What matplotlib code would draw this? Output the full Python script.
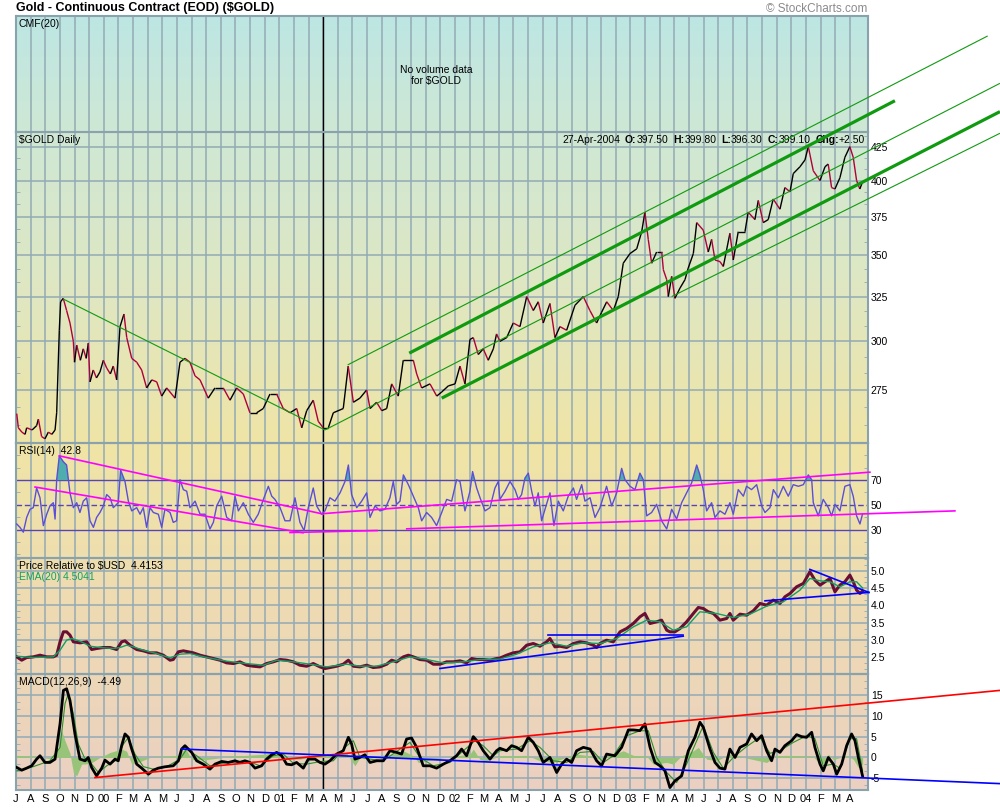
import numpy as np
import matplotlib
matplotlib.use("Agg")
import matplotlib.pyplot as plt
from matplotlib.collections import LineCollection
from matplotlib.colors import LinearSegmentedColormap
from matplotlib.ticker import FixedLocator, NullFormatter

plt.rcParams['font.family'] = ['Liberation Sans', 'DejaVu Sans']

# x unit: months since 1-Jul-1999
month_labels = ['J', 'A', 'S', 'O', 'N', 'D',
                '00', 'F', 'M', 'A', 'M', 'J', 'J', 'A', 'S', 'O', 'N', 'D',
                '01', 'F', 'M', 'A', 'M', 'J', 'J', 'A', 'S', 'O', 'N', 'D',
                '02', 'F', 'M', 'A', 'M', 'J', 'J', 'A', 'S', 'O', 'N', 'D',
                '03', 'F', 'M', 'A', 'M', 'J', 'J', 'A', 'S', 'O', 'N', 'D',
                '04', 'F', 'M', 'A']
XMAX = 58.24
MARK_MONTH = 21  # vertical marker, Apr 2001

# ---- $GOLD daily close ----
price_t = [0.05, 0.16, 0.40, 0.62, 0.73, 1.10, 1.41, 1.53, 1.75, 1.98, 2.21, 2.45, 2.67, 2.78,
           2.96, 3.05, 3.23, 3.46, 3.69, 3.92, 4.00, 4.15, 4.40, 4.60, 4.80, 4.94, 5.06, 5.28,
           5.50, 5.74, 5.97, 6.20, 6.45, 6.65, 6.88, 7.11, 7.38, 7.57, 7.91, 8.25, 8.59, 8.93,
           9.28, 9.62, 9.96, 10.30, 10.87, 11.21, 11.55, 11.89, 12.24, 12.58, 13.14, 13.60,
           14.17, 14.63, 15.08, 15.54, 15.99, 16.45, 16.90, 17.36, 17.82, 18.27, 18.73, 19.19,
           19.53, 19.87, 20.32, 20.66, 21.00, 21.35, 21.69, 22.37, 22.71, 23.06, 23.51, 23.97,
           24.20, 24.65, 25.00, 25.34, 25.68, 26.13, 26.47, 27.16, 27.39, 27.73, 28.30, 28.76,
           29.10, 29.55, 30.01, 30.35, 30.69, 31.03, 31.26, 31.60, 31.94, 32.28, 32.63, 32.85,
           33.08, 33.54, 33.99, 34.45, 34.91, 35.36, 35.70, 36.04, 36.50, 36.84, 37.18, 37.64,
           38.21, 38.78, 39.23, 39.69, 40.03, 40.38, 40.83, 41.17, 41.51, 41.97, 42.43, 42.77,
           42.99, 43.22, 43.45, 43.79, 44.14, 44.25, 44.48, 44.59, 44.82, 45.04, 45.39, 45.73,
           45.95, 46.30, 46.53, 46.98, 47.32, 47.55, 47.78, 48.12, 48.35, 48.80, 49.03, 49.37,
           49.83, 50.05, 50.51, 50.74, 51.08, 51.42, 51.76, 52.22, 52.56, 52.91, 53.13, 53.59,
           53.93, 54.16, 54.50, 54.96, 55.30, 55.52, 55.75, 55.98, 56.32, 56.66, 57.00, 57.23,
           57.46, 57.68, 57.87]
price_v = [263.6, 257, 255, 254, 257, 256, 258, 261, 253, 252, 255, 254, 256, 264,
           306, 322, 324, 317, 310, 300, 289, 298, 290, 296, 291, 299, 279, 285,
           281, 284, 290, 286, 283, 287, 280, 308, 315, 302, 291, 289, 285, 276,
           280, 279, 272, 276, 271, 289, 291, 289, 282, 280, 271, 276,
           276, 270, 276, 273, 264, 264, 266, 273, 273, 266, 264, 266,
           257, 265, 270, 260, 257, 257, 264, 266, 287, 269, 271, 275,
           266, 269, 265, 266, 278, 272, 290, 290, 283, 276, 278, 272,
           274, 277, 278, 287, 278, 301, 302, 293, 296, 290, 296, 304,
           300, 302, 310, 308, 325, 317, 322, 310, 321, 302, 308, 306,
           320, 325, 317, 310, 316, 322, 317, 325, 345, 351, 354, 365,
           378, 360, 345, 352, 352, 341, 335, 325, 337, 324, 330, 335,
           342, 351, 371, 366, 352, 360, 347, 346, 343, 364, 347, 365,
           365, 378, 373, 386, 371, 373, 387, 380, 395, 392, 405, 410,
           415, 425, 407, 400, 410, 412, 395, 394, 402, 417, 425, 417,
           400, 394, 399.1]

# price channel trendlines (month, price)
down_t, down_v = [3.23, 21.12], [323.6, 256.0]
chan_top_t, chan_top_v = [22.67, 66.42], [287.6, 518.1]
chan_hi_t, chan_hi_v = [26.88, 60.08], [293.7, 461.4]
chan_mid_t, chan_mid_v = [21.12, 67.26], [256.0, 476.0]
chan_lo_t, chan_lo_v = [29.10, 67.26], [271.0, 452.5]
chan_bot_t, chan_bot_v = [44.82, 67.26], [325.0, 435.3]

# ---- RSI(14) ----
rsi_t = [0.05, 0.27, 0.50, 0.73, 0.96, 1.18, 1.41, 1.64, 1.87, 2.10, 2.32, 2.55, 2.67, 2.78,
         2.96, 3.24, 3.46, 3.69, 3.92, 4.15, 4.37, 4.60, 4.83, 5.06, 5.29, 5.51, 5.74, 5.97,
         6.20, 6.43, 6.65, 6.99, 7.15, 7.45, 7.68, 7.91, 8.25, 8.48, 8.70, 8.93, 9.16, 9.39,
         9.73, 9.96, 10.18, 10.53, 10.75, 10.98, 11.21, 11.44, 11.67, 11.89, 12.24, 12.58,
         12.92, 13.26, 13.49, 13.72, 14.06, 14.40, 14.74, 14.97, 15.20, 15.54, 15.88, 16.22,
         16.56, 16.91, 17.25, 17.48, 17.70, 18.05, 18.39, 18.73, 19.07, 19.41, 19.69, 19.98,
         20.32, 20.55, 20.89, 21.12, 21.46, 21.80, 22.15, 22.49, 22.72, 22.94, 23.29, 23.63,
         23.97, 24.20, 24.54, 24.88, 25.22, 25.56, 25.79, 26.02, 26.25, 26.48, 26.82, 27.16,
         27.50, 27.73, 28.07, 28.41, 28.75, 29.10, 29.44, 29.78, 30.12, 30.35, 30.69, 31.03,
         31.21, 31.49, 31.72, 32.06, 32.40, 32.74, 32.97,
         33.08, 33.43, 33.77, 34.11, 34.34, 34.56, 34.79, 35.02, 35.25, 35.48, 35.70, 35.93,
         36.16, 36.50, 36.77, 37.07, 37.41, 37.75, 38.10, 38.32, 38.67, 38.89, 39.24, 39.58,
         39.92, 40.37, 40.72, 41.06, 41.40, 41.63, 41.97, 42.31, 42.65, 42.88, 43.11, 43.45,
         43.79, 44.13, 44.48, 44.82, 45.16, 45.50, 45.84, 46.18, 46.53, 46.75, 46.98, 47.21,
         47.55, 47.78, 48.12, 48.46, 48.80, 49.03, 49.37, 49.72, 49.94, 50.28, 50.63, 50.97,
         51.20, 51.54, 51.77, 52.11, 52.45, 52.79, 53.13, 53.48, 53.82, 54.16, 54.39, 54.50,
         54.84, 55.18, 55.53, 55.75, 55.98, 56.32, 56.66, 57.00, 57.23, 57.46, 57.69, 57.87]
rsi_v = [34.5, 31.8, 27.9, 39.8, 46.4, 47.7, 63.6, 55.7, 33.2, 42.4, 49.1, 51.7, 38.5, 70.3,
         89.6, 84.8, 82.2, 59.7, 47.7, 51.7, 43.8, 53.0, 55.7, 37.1, 31.8, 39.8, 43.8, 49.1,
         58.3, 55.7, 47.7, 51.7, 78.2, 68.9, 53.0, 45.1, 47.7, 42.4, 47.7, 31.8, 47.7, 43.8,
         42.4, 31.8, 46.4, 43.8, 35.8, 37.1, 70.3, 62.3, 61.0, 47.7, 53.0, 42.4,
         42.4, 30.5, 35.8, 49.1, 57.0, 39.8, 37.1, 57.0, 45.1, 51.7, 42.4, 35.8,
         42.4, 54.4, 65.0, 57.0, 54.4, 47.7, 37.1, 37.1, 55.7, 35.8, 29.2, 47.7,
         63.6, 49.1, 42.4, 45.1, 55.7, 53.0, 59.7, 68.9, 82.2, 58.3, 47.7, 53.0,
         59.7, 39.8, 49.1, 45.1, 46.4, 55.7, 68.9, 50.4, 53.0, 74.2, 66.3, 57.0,
         47.7, 37.1, 43.8, 39.8, 33.2, 43.8, 54.4, 53.0, 70.3, 68.9, 45.1, 61.0,
         76.9, 63.6, 55.7, 45.1, 47.7, 63.6, 68.9,
         54.4, 61.0, 68.9, 62.3, 54.4, 58.3, 71.6, 75.6, 61.0, 49.1, 59.7, 37.1,
         46.4, 59.7, 33.2, 53.0, 45.1, 57.0, 63.6, 54.4, 66.3, 53.0, 55.7, 39.8,
         47.7, 65.0, 49.1, 59.7, 79.5, 70.3, 65.0, 62.3, 75.6, 70.3, 41.1, 43.8,
         50.4, 37.1, 30.5, 46.4, 38.5, 51.7, 59.7, 67.6, 82.2, 74.2, 62.3, 45.1,
         51.7, 39.8, 45.1, 42.4, 51.7, 42.4, 62.3, 57.0, 65.0, 62.3, 66.3, 49.1,
         43.8, 47.7, 62.3, 55.7, 65.0, 57.0, 66.3, 65.0, 66.3, 74.2, 70.3, 51.7,
         41.1, 54.4, 47.7, 41.1, 50.4, 45.1, 65.0, 66.3, 57.0, 41.1, 34.5, 42.8]

rsi_line1 = ([2.96, 21.00], [89.6, 42.5])
rsi_line2 = ([1.30, 19.62], [64.4, 27.4])
rsi_line3 = ([18.73, 24.68], [27.6, 29.2])
rsi_line4 = ([26.71, 64.18], [30.6, 45.1])
rsi_line5 = ([21.12, 58.37], [43.0, 76.4])

# ---- Price relative to $USD and its EMA(20) ----
pr_t = [0.05, 0.39, 0.73, 1.18, 1.64, 2.10, 2.55, 2.78, 3.01, 3.24, 3.46, 3.69, 3.92, 4.37,
        4.83, 5.17, 5.51, 5.97, 6.43, 6.88, 7.22, 7.45, 7.79, 8.25, 8.70, 9.16, 9.61, 10.07,
        10.53, 10.75, 11.10, 11.44, 11.78, 12.12, 12.58, 13.03, 13.49, 13.94, 14.40, 14.86,
        15.31, 15.77, 16.22, 16.68, 17.13, 17.59, 18.05, 18.50, 18.96, 19.41, 19.87, 20.32,
        20.78, 21.12, 21.46, 21.92, 22.37, 22.72, 23.06, 23.51, 23.97, 24.42, 24.88, 25.34,
        25.68, 26.02, 26.48, 26.82, 27.16, 27.61, 28.07, 28.53, 28.98, 29.44, 29.89, 30.35,
        30.80, 31.15, 31.49, 31.94, 32.40, 32.85, 33.08,
        33.54, 33.99, 34.45, 34.91, 35.36, 35.82, 36.27, 36.50, 36.84, 37.18, 37.64, 38.10,
        38.55, 39.01, 39.46, 39.69, 39.92, 40.37, 40.83, 41.29, 41.74, 42.20, 42.65, 42.99,
        43.34, 43.79, 44.13, 44.48, 44.70, 45.04, 45.39, 45.84, 46.30, 46.64, 46.98, 47.32,
        47.67, 48.12, 48.58, 48.80, 49.03, 49.49, 49.94, 50.40, 50.85, 51.31, 51.77, 52.22,
        52.56, 52.91, 53.36, 53.82, 54.27, 54.61, 54.96, 55.30, 55.64, 55.98, 56.32, 56.66,
        57.00, 57.23, 57.46, 57.69, 57.87]
pr_v = [2.515, 2.419, 2.496, 2.515, 2.563, 2.515, 2.515, 2.563, 2.949, 3.238, 3.238, 3.141, 2.949, 2.92,
        2.949, 2.727, 2.756, 2.785, 2.785, 2.727, 2.949, 2.978, 2.852, 2.727, 2.689, 2.631, 2.631, 2.563,
        2.419, 2.438, 2.66, 2.689, 2.66, 2.631, 2.563, 2.515, 2.467, 2.419, 2.342, 2.322,
        2.371, 2.274, 2.245, 2.226, 2.322, 2.371, 2.438, 2.419, 2.371, 2.274, 2.245, 2.322,
        2.226, 2.178, 2.207, 2.245, 2.303, 2.419, 2.245, 2.226, 2.274, 2.207, 2.226, 2.303,
        2.419, 2.371, 2.515, 2.563, 2.515, 2.438, 2.419, 2.303, 2.303, 2.371, 2.371, 2.40,
        2.342, 2.467, 2.438, 2.438, 2.419, 2.467, 2.48,
        2.563, 2.631, 2.66, 2.852, 2.90, 2.823, 2.949, 3.045, 2.804, 2.823, 2.785, 2.90,
        2.949, 2.92, 2.852, 2.785, 2.90, 2.997, 2.949, 3.238, 3.334, 3.479, 3.671, 3.768,
        3.479, 3.527, 3.575, 3.286, 3.238, 3.238, 3.334, 3.527, 3.768, 3.941, 3.912, 3.816,
        3.768, 3.575, 3.623, 3.768, 3.575, 3.748, 3.719, 3.845, 4.057, 4.008, 4.153, 4.057,
        4.249, 4.346, 4.538, 4.635, 4.972, 4.731, 4.587, 4.683, 4.779, 4.394, 4.587, 4.683,
        4.876, 4.683, 4.442, 4.346, 4.415]
ema_t = [0.05, 1.18, 2.55, 3.01, 3.46, 3.81, 4.37, 5.06, 5.74, 6.65, 7.11, 7.56, 8.02, 8.70,
         9.61, 10.53, 11.21, 11.89, 13.03, 14.40, 15.77, 16.91, 17.82, 18.96, 20.10, 21.23,
         22.60, 23.51, 24.65, 25.79, 26.93, 28.07, 29.21, 30.58, 31.72, 33.08, 34.22, 35.36,
         36.50, 37.64, 38.78, 39.92, 41.06, 42.20, 43.11, 44.02, 44.93, 45.84, 46.75, 47.89,
         49.03, 50.17, 51.31, 52.45, 53.59, 54.27, 54.96, 55.64, 56.32, 57.00, 57.46, 57.87]
ema_v = [2.534, 2.496, 2.515, 2.708, 2.997, 3.045, 2.968, 2.823, 2.785, 2.756, 2.785, 2.852, 2.804, 2.708,
         2.611, 2.486, 2.592, 2.611, 2.496, 2.39, 2.322, 2.274, 2.419, 2.371, 2.303, 2.226,
         2.303, 2.245, 2.245, 2.371, 2.515, 2.438, 2.342, 2.371, 2.438, 2.45, 2.592, 2.804,
         2.92, 2.823, 2.92, 2.9, 3.045, 3.382, 3.575, 3.527, 3.286, 3.382, 3.816, 3.768,
         3.652, 3.748, 3.98, 4.105, 4.442, 4.779, 4.712, 4.683, 4.538, 4.683, 4.683, 4.504]

pr_line1 = ([28.98, 45.61], [2.179, 3.113])
pr_line2 = ([36.38, 45.61], [3.142, 3.142])
pr_line3 = ([51.20, 58.30], [4.133, 4.376])
pr_line4 = ([54.27, 58.30], [5.04, 4.376])

# ---- MACD(12,26,9) ----
macd_t = [0.05, 0.39, 0.73, 1.07, 1.41, 1.64, 1.98, 2.32, 2.67, 3.01, 3.24, 3.46, 3.69, 4.03,
          4.37, 4.72, 4.94, 5.17, 5.51, 5.86, 6.08, 6.43, 6.77, 6.99, 7.22, 7.45, 7.68, 7.91,
          8.25, 8.59, 9.05, 9.39, 9.73, 10.18, 10.75, 11.10, 11.32, 11.55, 12.01, 12.35,
          12.80, 13.26, 13.60, 14.06, 14.51, 14.97, 15.31, 15.65, 15.99, 16.34, 16.79, 17.13,
          17.48, 17.82, 18.16, 18.50, 18.84, 19.18, 19.64, 19.98, 20.44, 20.78, 21.12, 21.46,
          21.92, 22.37, 22.72, 22.94, 23.17, 23.51, 23.85, 24.20, 24.65, 25.11, 25.56, 26.02,
          26.36, 26.70, 27.04, 27.39, 27.84, 28.30, 28.75, 29.21, 29.66, 30.12, 30.46, 30.80,
          31.26, 31.60, 31.94, 32.40, 32.85, 33.08,
          33.54, 33.88, 34.22, 34.56, 35.02, 35.36, 35.70, 36.04, 36.50, 36.96, 37.30, 37.64,
          37.98, 38.32, 38.78, 39.24, 39.69, 40.03, 40.37, 40.94, 41.40, 41.86, 42.20, 42.65,
          42.99, 43.34, 43.68, 44.02, 44.36, 44.70, 45.04, 45.50, 45.96, 46.41, 46.75, 46.98,
          47.44, 47.78, 48.12, 48.46, 48.80, 49.15, 49.49, 49.94, 50.28, 50.63, 50.97, 51.31,
          51.65, 51.88, 52.22, 52.56, 53.02, 53.36, 53.70, 54.04, 54.39, 54.61, 54.96, 55.18,
          55.53, 55.87, 56.10, 56.44, 56.78, 57.12, 57.35, 57.58, 57.87]
macd_v = [-2.4, -3.05, -2.56, -2.0, -0.4, 0.41, -1.2, -1.2, -0.4, 8.04, 16.07, 16.47, 13.66, 5.63,
          -0.4, -0.8, 0.0, -2.4, -4.41, -2.56, -0.64, -1.6, -0.4, -0.8, 2.82, 5.63, 4.83, 2.01,
          -1.6, -2.56, -4.01, -3.05, -2.56, -2.24, -2.0, -0.8, 2.01, 2.82, 1.21, -0.8,
          -1.6, -2.8, -1.6, -0.96, -1.2, -0.8, -1.2, -0.8, -1.2, -2.56, -2.0, -0.4,
          0.65, 1.21, 0.41, -1.6, -1.76, -1.2, -2.56, -0.4, -0.4, -1.2, -1.6, -0.8,
          0.81, 1.61, 4.83, 3.22, -0.4, 0.0, 0.65, -1.2, -0.8, -0.8, 1.61, 1.21,
          0.81, 4.42, 4.66, 2.42, -2.0, -2.0, -2.56, -1.6, -0.8, 0.41, 2.01, 0.41,
          4.99, 3.62, 1.61, -0.4, 1.61, 2.2,
          1.61, 2.82, 2.42, 1.61, 4.83, 3.62, 1.61, -1.2, 0.0, -3.61, -1.6, -0.4,
          -1.2, 1.61, 2.42, 2.01, -0.8, -2.0, 0.81, 0.41, 2.42, 6.59, 6.59, 6.43,
          8.04, 2.42, -1.2, -2.0, -3.21, -7.22, -5.62, -4.41, 1.61, 4.83, 8.44, 7.24,
          2.01, -1.2, -2.56, -2.8, 2.01, 0.0, 2.42, 3.22, 5.63, 4.02, 5.23, 1.61,
          -0.8, 2.01, 1.21, 2.82, 4.02, 5.46, 4.99, 4.83, 6.03, 2.42, -1.6, -3.21,
          0.0, -1.6, -4.01, -1.6, 2.82, 5.63, 4.02, 0.0, -4.49]
signal_t = [0.05, 1.18, 2.32, 3.01, 3.35, 3.58, 3.92, 4.26, 4.72, 5.17, 5.63, 6.20, 6.88, 7.34,
            7.68, 8.13, 8.70, 9.39, 10.30, 11.21, 11.67, 12.35, 13.26, 14.40, 15.77, 16.68,
            17.59, 18.27, 18.96, 19.87, 20.78, 21.69, 22.60, 23.06, 23.51, 24.20, 25.11, 26.02,
            26.93, 27.61, 28.53, 29.66, 30.58, 31.37, 31.94, 32.63, 33.08, 34.22, 35.13, 35.82,
            36.73, 37.64, 38.55, 39.46, 40.15, 40.83, 41.74, 42.65, 43.22, 43.79, 44.48, 45.16,
            45.84, 46.53, 46.98, 47.67, 48.35, 49.03, 49.94, 50.85, 51.54, 52.22, 53.13, 54.04,
            54.61, 55.18, 55.87, 56.32, 57.00, 57.46, 57.87]
signal_v = [-3.2, -2.2, -0.8, 2.4, 12.9, 15.3, 10.45, 3.2, -0.4, -1.6, -3.6, -2.0, -0.6, 3.2,
            4.8, 0.8, -2.2, -2.8, -2.2, -0.4, 2.0, 0.4, -2.0, -1.2, -0.8, -2.0,
            0.4, 0.8, -1.4, -1.6, -1.0, -0.8, 2.8, 4.0, 0.0, -0.4, -0.8, 1.45,
            3.6, 0.0, -2.0, -1.2, 1.6, 4.0, 2.8, 0.4, 1.6, 2.0, 4.0, 2.4,
            -0.8, -1.2, 1.2, 1.45, -1.2, 0.4, 5.2, 6.4, 6.4, 0.0, -3.6, -6.0,
            -1.6, 4.0, 7.6, 1.2, -2.6, 0.0, 2.6, 4.8, 1.0, 1.6, 3.6, 5.2,
            4.5, -2.0, -1.6, -2.6, 4.5, 4.5, -3.2]
hist_t = [0.05, 1.18, 2.32, 2.89, 3.12, 3.35, 3.69, 3.92, 4.15, 4.49, 5.06, 5.74, 6.43, 7.22,
          7.56, 7.91, 8.48, 9.16, 11.21, 11.55, 12.01, 13.03, 14.86, 17.13, 17.48, 18.27,
          19.41, 20.55, 22.60, 22.83, 23.17, 23.51, 25.79, 26.47, 27.16, 27.50, 28.53, 30.12,
          31.03, 31.26, 31.72, 32.17, 33.08, 34.91, 35.82, 36.73, 37.18, 38.32, 39.24, 39.92,
          40.60, 41.51, 42.20, 43.11, 43.56, 44.48, 44.93, 45.50, 46.30, 46.64, 47.21, 47.89,
          48.80, 49.49, 51.31, 51.99, 52.68, 54.50, 54.96, 55.30, 55.53, 55.87, 56.78, 57.23,
          57.58, 57.87]
hist_v = [0.5, 0.3, -0.3, 2.0, 6.4, 4.0, 1.0, -3.6, -4.4, -1.6, -1.5, 0.0, 1.2, 2.0,
          1.5, -1.6, -1.0, 0.0, 0.5, 2.4, -0.5, -0.5, 0.3, 0.8, 1.2, -0.4,
          -0.4, 0.4, 1.2, -0.3, -2.0, 0.0, 0.8, 1.6, 0.4, -1.2, -0.4, 0.4,
          0.8, 2.0, -0.5, -0.8, 0.4, 0.5, -0.8, -1.2, -0.5, 0.8, 0.4, -0.5,
          0.4, 1.6, 0.5, 0.3, -1.6, -1.2, -1.6, 0.4, 1.6, 2.4, -0.4, -0.8,
          0.8, 0.2, -1.2, 0.4, 0.5, 0.2, -1.6, -1.2, 0.8, -0.5, 0.4, -0.4,
          -2.4, -1.6]

macd_red = ([5.40, 67.26], [-4.82, 16.07])
macd_blue = ([11.33, 67.26], [2.02, -6.27])

# ---------------------------------------------------------------
W, H = 1000, 810
GRID = '#93aab4'
SPINE = '#8aa2ac'
FS = 7.5

fig = plt.figure(figsize=(W / 100, H / 100), dpi=100)
fig.patch.set_facecolor('white')


def panel_rect(top, bottom):
    return [16 / W, 1 - bottom / H, (868 - 16) / W, (bottom - top) / H]


# gradient background behind all panels
bg = fig.add_axes(panel_rect(16, 790), zorder=0)
stops = [(0.0, '#bde6e3'), (0.15, '#cfe8d4'), (0.35, '#dfe7c2'), (0.55, '#efe4a6'),
         (0.63, '#f0e2aa'), (0.78, '#eedab3'), (0.92, '#ecd4bc'), (1.0, '#ebd0c2')]
bg.imshow(np.linspace(0, 1, 400).reshape(-1, 1), aspect='auto',
          cmap=LinearSegmentedColormap.from_list('bg', stops))
bg.axis('off')

ax_cmf = fig.add_axes(panel_rect(16, 132), zorder=1)
ax_p = fig.add_axes(panel_rect(132, 443), zorder=3)
ax_rsi = fig.add_axes(panel_rect(443, 558), zorder=2)
ax_pr = fig.add_axes(panel_rect(558, 674), zorder=2)
ax_m = fig.add_axes(panel_rect(674, 790), zorder=2)


def style(ax, ylim, ticks=None, labels=None, minor=None, ygrid=True, log=False):
    ax.set_facecolor('none')
    if log:
        ax.set_yscale('log')
    ax.set_xlim(0, XMAX)
    ax.set_ylim(*ylim)
    ax.set_xticks(range(58))
    ax.tick_params(axis='x', length=0, labelbottom=False)
    ax.grid(axis='x', color=GRID, lw=1.1)
    ax.yaxis.tick_right()
    ax.set_yticks(ticks if ticks is not None else [], labels=labels)
    ax.yaxis.set_minor_locator(FixedLocator(minor if minor is not None else []))
    ax.yaxis.set_minor_formatter(NullFormatter())
    ax.tick_params(axis='y', which='major', length=0, pad=2, labelsize=FS)
    ax.tick_params(axis='y', which='minor', left=True, right=True, direction='in',
                   length=3, color=GRID)
    if ygrid:
        ax.grid(axis='y', which='major', color=GRID, lw=1.1)
    for s in ax.spines.values():
        s.set_color(SPINE)
        s.set_linewidth(1.5)
    ax.set_axisbelow(True)
    ax.axvline(MARK_MONTH, color='black', lw=1.0, zorder=1.5)


def tag(ax, s, dy=-2, color='black'):
    ax.annotate(s, xy=(0, 1), xycoords='axes fraction', xytext=(2, dy),
                textcoords='offset points', va='top', ha='left', fontsize=FS, color=color)


# --- CMF panel (no data) ---
style(ax_cmf, (0, 1), ygrid=False)
tag(ax_cmf, 'CMF(20)')
ax_cmf.text(0.493, 0.49, 'No volume data\nfor $GOLD', transform=ax_cmf.transAxes,
            ha='center', va='center', fontsize=FS, linespacing=1.15)

# --- price panel ---
style(ax_p, (250.1, 436.3), ticks=[275, 300, 325, 350, 375, 400, 425],
      labels=['275', '300', '325', '350', '375', '400', '425'],
      minor=np.arange(250, 437, 25 / 3), log=True)
pts = np.column_stack([price_t, price_v])
segs = np.stack([pts[:-1], pts[1:]], axis=1)
cols = np.where(np.diff(price_v) >= 0, '#000000', '#b0003a')
ax_p.add_collection(LineCollection(segs, colors=cols, linewidths=1.0, zorder=3))

GREEN = '#109a10'
for (lt, lv), lw in [((down_t, down_v), 0.8), ((chan_top_t, chan_top_v), 0.8),
                     ((chan_mid_t, chan_mid_v), 0.8), ((chan_bot_t, chan_bot_v), 0.8),
                     ((chan_hi_t, chan_hi_v), 2.3), ((chan_lo_t, chan_lo_v), 2.3)]:
    ax_p.plot(lt, lv, color=GREEN, lw=lw, clip_on=False, zorder=4, solid_capstyle='butt')

tag(ax_p, '$GOLD Daily')
# header pieces, right to left; gap = space (points) to the right of the piece
header = [('+2.50', False, 0), ('Chg:', True, 0), ('399.10', False, 3.5), ('C:', True, 0),
          ('396.30', False, 3.5), ('L:', True, 0), ('399.80', False, 3.5), ('H:', True, 0),
          ('397.50', False, 3.5), ('O:', True, 0), ('27-Apr-2004', False, 3.5)]
prev = None
for s, bold, gap in header:
    w = 'bold' if bold else 'normal'
    if prev is None:
        prev = ax_p.annotate(s, xy=(1, 1), xycoords='axes fraction', xytext=(-2, -2),
                             textcoords='offset points', ha='right', va='top',
                             fontsize=FS, fontweight=w)
    else:
        prev = ax_p.annotate(s, xy=(0, 0), xycoords=prev, xytext=(-gap, 0),
                             textcoords='offset points', ha='right', va='bottom',
                             fontsize=FS, fontweight=w)

# --- RSI panel ---
style(ax_rsi, (7, 100), ticks=[30, 50, 70], labels=['30', '50', '70'],
      minor=np.arange(10, 100, 10), ygrid=False)
RSI_C = '#5a4fd6'
ax_rsi.axhline(70, color='#5646b4', lw=1.0, zorder=2)
ax_rsi.axhline(30, color='#5646b4', lw=1.0, zorder=2)
ax_rsi.axhline(50, color='#5646b4', lw=1.0, ls=(0, (4, 2)), zorder=2)
rv = np.array(rsi_v)
ax_rsi.fill_between(rsi_t, rv, 70, where=rv >= 70, interpolate=True, color='#4fadad', lw=0, zorder=2.5)
ax_rsi.fill_between(rsi_t, rv, 30, where=rv <= 30, interpolate=True, color='#4fadad', lw=0, zorder=2.5)
ax_rsi.plot(rsi_t, rsi_v, color=RSI_C, lw=1.0, zorder=3)
for lt, lv in [rsi_line1, rsi_line2, rsi_line3, rsi_line4, rsi_line5]:
    ax_rsi.plot(lt, lv, color='#ff00ff', lw=1.2, clip_on=False, zorder=4)
tag(ax_rsi, 'RSI(14)  42.8')

# --- price relative panel ---
style(ax_pr, (2.02, 5.37), ticks=[2.5, 3.0, 3.5, 4.0, 4.5, 5.0],
      labels=['2.5', '3.0', '3.5', '4.0', '4.5', '5.0'],
      minor=np.arange(2.0 + 1 / 6, 5.37, 1 / 6))
ax_pr.plot(pr_t, pr_v, color='#6a0f32', lw=2.2, zorder=3)
ax_pr.plot(ema_t, ema_v, color='#12a062', lw=1.0, zorder=3.5)
for lt, lv in [pr_line1, pr_line2, pr_line3, pr_line4]:
    ax_pr.plot(lt, lv, color='#0000ff', lw=1.2, clip_on=False, zorder=4)
tag(ax_pr, 'Price Relative to $USD  4.4153')
tag(ax_pr, 'EMA(20) 4.5041', dy=-10, color='#12a062')

# --- MACD panel ---
style(ax_m, (-7.8, 20.0), ticks=[-5, 0, 5, 10, 15], labels=['-5', '0', '5', '10', '15'],
      minor=np.arange(-20 / 3, 20, 5 / 3))
ax_m.fill_between(hist_t, hist_v, 0, color='#98c47a', lw=0, zorder=2)
ax_m.plot(signal_t, signal_v, color='#2e8f2e', lw=0.8, zorder=3)
ax_m.plot(macd_t, macd_v, color='black', lw=2.0, zorder=3.5)
ax_m.plot(*macd_red, color='#ff0000', lw=1.2, clip_on=False, zorder=4)
ax_m.plot(*macd_blue, color='#0000ff', lw=1.2, clip_on=False, zorder=4)
tag(ax_m, 'MACD(12,26,9)  -4.49')
ax_m.set_xticks(range(58), labels=month_labels)
ax_m.tick_params(axis='x', labelbottom=True, labelsize=8, pad=3)

# titles
fig.text(16 / W, 1 - 8 / H, 'Gold - Continuous Contract (EOD) ($GOLD)', ha='left',
         va='center', fontsize=9, fontweight='bold')
fig.text(867 / W, 1 - 9 / H, '\u00a9 StockCharts.com', ha='right', va='center',
         fontsize=8.5, color='#8a8a8a')

fig.savefig('out.png', dpi=100)
